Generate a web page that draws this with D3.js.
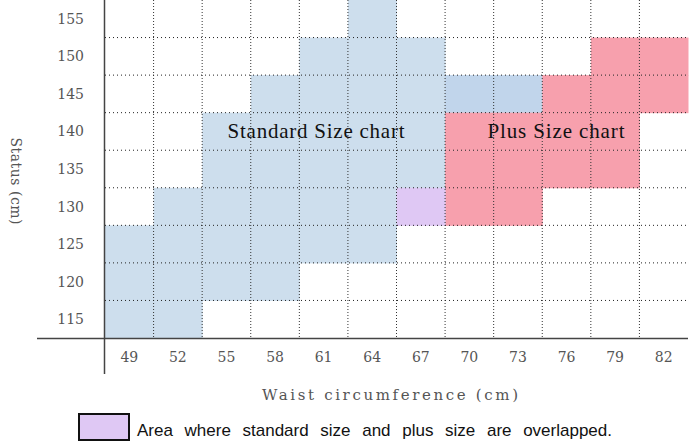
<!DOCTYPE html>
<html><head><meta charset="utf-8">
<script src="https://cdn.jsdelivr.net/npm/d3@7"></script>
<style>body{margin:0;background:#fff}svg{display:block}</style>
</head><body>
<svg id="c" width="689" height="442"></svg>
<script>
// Data
const waist = [49,52,55,58,61,64,67,70,73,76,79,82];
const stature = [115,120,125,130,135,140,145,150,155];
// [stature, minWaist, maxWaist]
const standardRanges = [[155,64,64],[150,61,67],[145,58,67],[140,55,67],[135,55,67],[130,52,64],[125,49,64],[120,49,58],[115,49,52]];
const standardExtra = [[145,70,73]];
const plusRanges = [[150,79,82],[145,76,82],[140,70,79],[135,70,79],[130,70,73]];
const overlapRanges = [[130,67,67]];
const regionLabels = ["Standard Size chart","Plus Size chart"];
const legendText = "Area where standard size and plus size are overlapped.";

const svg = d3.select("#c");
const x = d3.scaleBand().domain(waist).range([105,688]).padding(0);
const y = d3.scaleBand().domain(stature.slice().reverse()).range([0,338]).padding(0);

function expand(ranges){
  const out=[];
  ranges.forEach(([s,a,b])=>waist.forEach(w=>{ if(w>=a&&w<=b) out.push({s,w}); }));
  return out;
}
function drawCells(ranges, color){
  svg.append("g").selectAll("rect").data(expand(ranges)).join("rect")
    .attr("x",d=>x(d.w)).attr("y",d=>y(d.s))
    .attr("width",x.bandwidth()+0.5).attr("height",y.bandwidth()+0.5)
    .attr("fill",color);
}
drawCells(standardRanges,"#cddeed");
drawCells(standardExtra,"#c1d5eb");
drawCells(plusRanges,"#f7a0ad");
drawCells(overlapRanges,"#dfc8f4");

// grid
const g = svg.append("g");
waist.slice(1).forEach(w=>{
  g.append("line").attr("x1",x(w)).attr("x2",x(w)).attr("y1",0).attr("y2",338)
   .attr("stroke","#333").attr("stroke-width",1).attr("stroke-dasharray","1,2");
});
stature.slice(0,-1).forEach(s=>{
  g.append("line").attr("x1",105).attr("x2",688).attr("y1",y(s)).attr("y2",y(s))
   .attr("stroke","#222").attr("stroke-width",1).attr("stroke-dasharray","1,3");
});

// axes lines
svg.append("line").attr("x1",37).attr("x2",688).attr("y1",338.5).attr("y2",338.5).attr("stroke","#444").attr("stroke-width",1.5);
svg.append("line").attr("x1",104.5).attr("x2",104.5).attr("y1",0).attr("y2",374).attr("stroke","#444").attr("stroke-width",1.5);

const serif = "DejaVu Serif";
// tick labels
svg.append("g").selectAll("text").data(stature).join("text")
  .attr("x",84).attr("y",d=>y(d)+y.bandwidth()/2+5)
  .attr("text-anchor","end").attr("font-family",serif).attr("font-size",14).attr("fill","#555")
  .text(d=>d);
svg.append("g").selectAll("text").data(waist).join("text")
  .attr("x",d=>x(d)+x.bandwidth()/2).attr("y",362)
  .attr("text-anchor","middle").attr("font-family",serif).attr("font-size",14).attr("fill","#555")
  .text(d=>d);

// axis titles
svg.append("text").attr("x",390).attr("y",400).attr("text-anchor","middle")
  .attr("font-family",serif).attr("font-size",15).attr("fill","#555")
  .attr("textLength",256).attr("lengthAdjust","spacing")
  .text("Waist circumference (cm)");
svg.append("text").attr("transform","translate(11,181) rotate(90)").attr("text-anchor","middle")
  .attr("font-family",serif).attr("font-size",14).attr("fill","#555")
  .attr("textLength",87).attr("lengthAdjust","spacing")
  .text("Status (cm)");

// region labels
svg.append("text").attr("x",316).attr("y",138).attr("text-anchor","middle")
  .attr("font-family","Liberation Serif").attr("font-size",21).attr("fill","#111")
  .attr("textLength",177).attr("lengthAdjust","spacing").text(regionLabels[0]);
svg.append("text").attr("x",556).attr("y",138).attr("text-anchor","middle")
  .attr("font-family","Liberation Serif").attr("font-size",21).attr("fill","#111")
  .attr("textLength",137).attr("lengthAdjust","spacing").text(regionLabels[1]);

// legend
svg.append("rect").attr("x",79).attr("y",414).attr("width",50).attr("height",26)
  .attr("fill","#dfc8f4").attr("stroke","#111").attr("stroke-width",2);
const lt = svg.append("text").attr("x",137).attr("y",436)
  .attr("font-family","Liberation Sans").attr("font-size",17).attr("fill","#111")
  .text(legendText);
const nat = lt.node().getComputedTextLength();
const spaces = legendText.split(" ").length-1;
lt.attr("word-spacing",Math.max(0,(475-nat)/spaces));
</script>
</body></html>
